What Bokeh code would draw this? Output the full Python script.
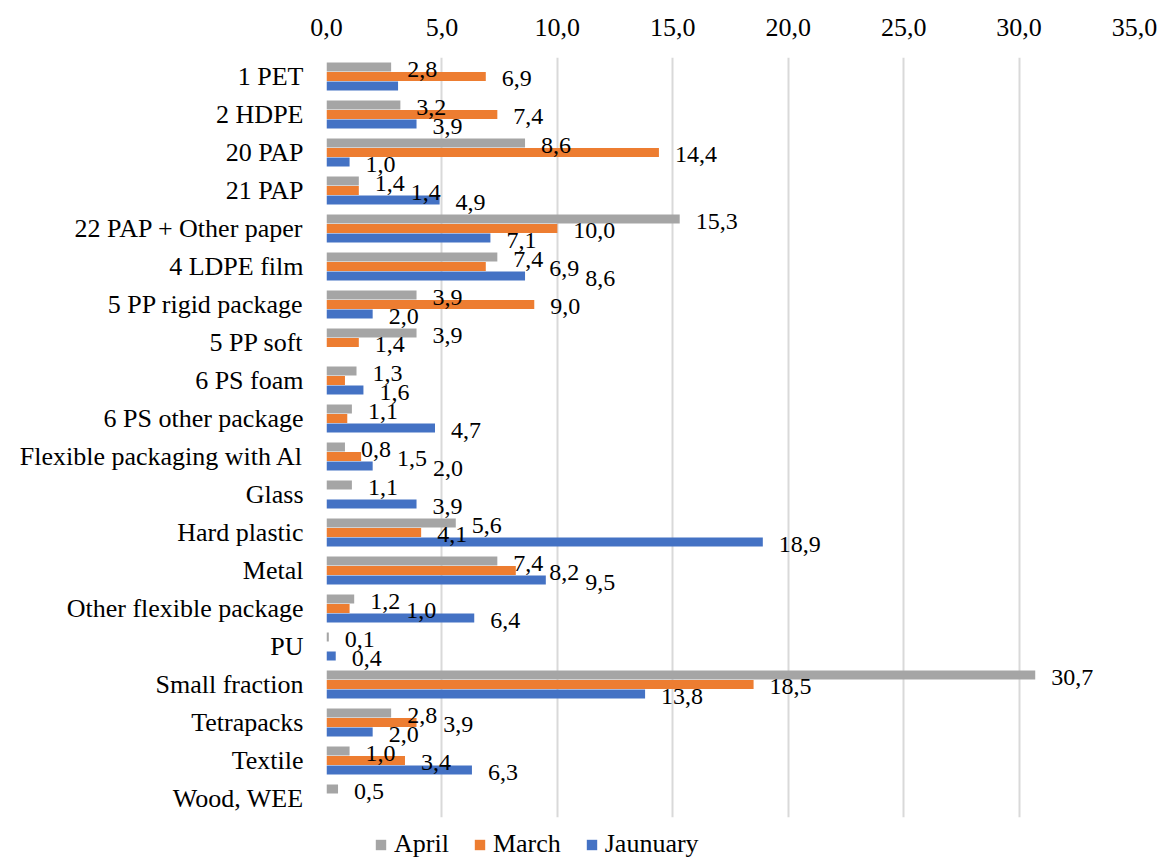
from bokeh.plotting import figure
from bokeh.layouts import column
from bokeh.models import (FactorRange, Range1d, ColumnDataSource, FixedTicker,
                          CustomJSTickFormatter, Legend, LegendItem)
from bokeh.transform import dodge
from bokeh.core.properties import value
from bokeh.embed import file_html
from bokeh.resources import INLINE

# ---------------- data ----------------
categories = ["1 PET", "2 HDPE", "20 PAP", "21 PAP", "22 PAP + Other paper",
              "4 LDPE film", "5 PP rigid package", "5 PP soft", "6 PS foam",
              "6 PS other package", "Flexible packaging with Al", "Glass",
              "Hard plastic", "Metal", "Other flexible package", "PU",
              "Small fraction", "Tetrapacks", "Textile", "Wood, WEE"]
april = [2.8, 3.2, 8.6, 1.4, 15.3, 7.4, 3.9, 3.9, 1.3, 1.1,
         0.8, 1.1, 5.6, 7.4, 1.2, 0.1, 30.7, 2.8, 1.0, 0.5]
march = [6.9, 7.4, 14.4, 1.4, 10.0, 6.9, 9.0, 1.4, 0.8, 0.9,
         1.5, 0.0, 4.1, 8.2, 1.0, 0.0, 18.5, 3.9, 3.4, 0.0]
january = [3.1, 3.9, 1.0, 4.9, 7.1, 8.6, 2.0, 0.0, 1.6, 4.7,
           2.0, 3.9, 18.9, 9.5, 6.4, 0.4, 13.8, 2.0, 6.3, 0.0]
series_names = ["April", "March", "Jaunuary"]
x_ticks = [0, 5, 10, 15, 20, 25, 30, 35]
# data labels that are not shown in the original chart
hidden_labels = {("Jaunuary", "1 PET"), ("March", "6 PS foam"),
                 ("March", "6 PS other package")}

# ---------------- style ----------------
colors = ["#A5A5A5", "#ED7D31", "#4472C4"]
offsets = [0.25, 0.0, -0.25]
FONT = "Liberation Serif"
W = 1160
H_MAIN, H_LEG = 825, 35
B_LEFT, B_RIGHT, B_TOP, B_BOTTOM = 326, 26, 57, 8
X_MAX = x_ticks[-1]
px_per_unit = (W - B_LEFT - B_RIGHT) / X_MAX
LABEL_PX = 24
GAP_PX = 16

p = figure(width=W, height=H_MAIN,
           y_range=FactorRange(factors=list(reversed(categories))),
           x_range=Range1d(0, X_MAX), x_axis_location="above",
           output_backend="svg", toolbar_location=None,
           min_border_left=B_LEFT, min_border_right=B_RIGHT,
           min_border_top=B_TOP, min_border_bottom=B_BOTTOM)
p.outline_line_color = None
p.background_fill_color = "white"

# x axis (top)
xa = p.xaxis[0]
xa.ticker = FixedTicker(ticks=x_ticks)
xa.formatter = CustomJSTickFormatter(code="return tick.toFixed(1).replace('.', ',');")
xa.major_label_text_font = FONT
xa.major_label_text_font_size = "26px"
xa.major_label_text_color = "black"
xa.axis_line_color = None
xa.major_tick_line_color = None
xa.minor_tick_line_color = None
xa.major_tick_out = 0
xa.major_label_standoff = 22

# y axis
ya = p.yaxis[0]
ya.major_label_text_font = FONT
ya.major_label_text_font_size = "26px"
ya.major_label_text_color = "black"
ya.axis_line_color = None
ya.major_tick_line_color = None
ya.minor_tick_line_color = None
ya.major_tick_out = 0
ya.major_label_standoff = 23

p.xgrid.ticker = FixedTicker(ticks=x_ticks)
p.xgrid.grid_line_color = "#D9D9D9"
p.xgrid.grid_line_width = 2
p.ygrid.grid_line_color = None

all_vals = [april, march, january]
for name, vals, col, off in zip(series_names, all_vals, colors, offsets):
    src = ColumnDataSource(dict(cat=categories, val=vals))
    p.hbar(y=dodge("cat", off, range=p.y_range), left=0, right="val",
           height=0.24, fill_color=col, line_color=None, source=src)


def text_width_px(s):
    return sum(0.25 if ch in ",." else 0.5 for ch in s) * LABEL_PX


# data labels with simple de-confliction between adjacent rows
lab = {n: dict(cat=[], x=[], text=[]) for n in series_names}
for ci, cat in enumerate(categories):
    prev = None  # (row index, start_px, end_px)
    for si, name in enumerate(series_names):
        v = all_vals[si][ci]
        if v <= 0 or (name, cat) in hidden_labels:
            continue
        txt = f"{v:.1f}".replace(".", ",")
        start = v * px_per_unit + GAP_PX
        w = text_width_px(txt)
        if prev is not None and si - prev[0] == 1:
            if start < prev[2] + 4 and start + w > prev[1] - 4:
                start = prev[2] + 6
        prev = (si, start, start + w)
        lab[name]["cat"].append(cat)
        lab[name]["x"].append(start / px_per_unit)
        lab[name]["text"].append(txt)

for name, off in zip(series_names, offsets):
    src = ColumnDataSource(lab[name])
    p.text(x="x", y=dodge("cat", off, range=p.y_range), text="text", source=src,
           text_font=value(FONT), text_font_size=f"{LABEL_PX}px",
           text_color="black", text_baseline="middle", text_align="left",
           y_offset=2)

# ---------------- legend (separate strip below the chart) ----------------
pl = figure(width=W, height=H_LEG, x_range=Range1d(0, 1), y_range=Range1d(0, 1),
            output_backend="svg", toolbar_location=None,
            min_border_left=0, min_border_right=0, min_border_top=0, min_border_bottom=0)
pl.axis.visible = False
pl.grid.visible = False
pl.outline_line_color = None
swatches = []
for col in colors:
    # zero-width bar: only used to give the legend its colour swatch
    swatches.append(pl.hbar(y=[0], left=[0], right=[0], height=0,
                            fill_color=col, line_color=None))
legend = Legend(items=[LegendItem(label=n, renderers=[r]) for n, r in zip(series_names, swatches)],
                orientation="horizontal", location=(48, 1),
                label_text_font=FONT, label_text_font_size="26px",
                label_text_color="black",
                glyph_width=13, glyph_height=13, label_standoff=7, spacing=24,
                padding=0, margin=0, border_line_color=None,
                background_fill_alpha=0)
pl.add_layout(legend)

open("out.html", "w").write(file_html(column(p, pl, spacing=0), INLINE))
